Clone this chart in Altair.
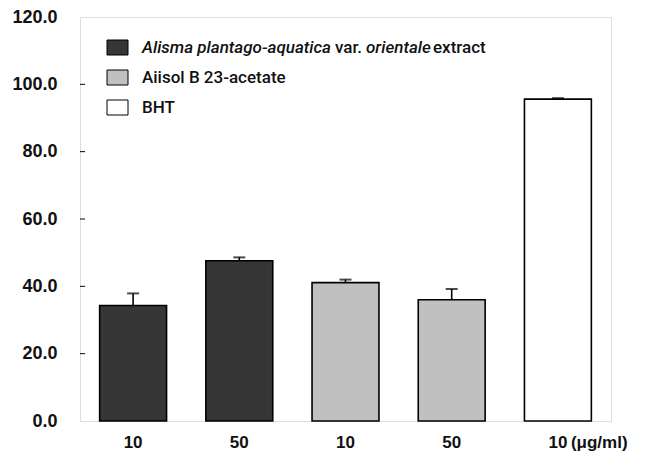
import altair as alt
import pandas as pd

categories = ["A10", "A50", "B10", "B50", "C10"]
tick_labels = ["10", "50", "10", "50", "10"]
groups = ["extract", "extract", "aiisol", "aiisol", "bht"]
means = [34.3, 47.6, 41.1, 36.0, 95.6]
errors = [3.6, 1.0, 0.9, 3.2, 0.3]
y_ticks = [0, 20, 40, 60, 80, 100, 120]
unit_label = "(\u03bcg/ml)"

group_names = ["extract", "aiisol", "bht"]
group_colors = ["#363636", "#c0c0c0", "#ffffff"]

df = pd.DataFrame({
    "cat": categories,
    "lab": tick_labels,
    "grp": groups,
    "mean": means,
    "err": errors,
})
df["top"] = df["mean"] + df["err"]

W, H = 531, 404
FONT = "Roboto"
FONT2 = "Liberation Sans"
color_scale = alt.Scale(domain=group_names, range=group_colors)

xs = alt.X("cat:N", sort=categories, axis=None,
           scale=alt.Scale(paddingInner=0.37, paddingOuter=0.185))
ys = alt.Y("mean:Q", scale=alt.Scale(domain=[0, 120], nice=False),
           axis=alt.Axis(values=y_ticks, format=".1f", title=None, grid=False,
                         ticks=False, domain=False, labelPadding=23,
                         labelFont=FONT2, labelFontSize=18, labelFontWeight="bold",
                         labelColor="#111"))

base = alt.Chart(df)

bars = base.mark_bar(stroke="black", strokeWidth=1.6).encode(
    x=xs,
    y=ys,
    color=alt.Color("grp:N", scale=color_scale, legend=None),
)

stems = base.mark_rule(color="black", strokeWidth=1.6).encode(
    x=alt.X("cat:N", sort=categories),
    y="mean:Q",
    y2="top:Q",
)
caps = base.mark_tick(color="black", thickness=2, size=12, orient="horizontal").encode(
    x=alt.X("cat:N", sort=categories),
    y="top:Q",
)

ytick_df = pd.DataFrame({"v": y_ticks[1:-1]})
yticks = alt.Chart(ytick_df).mark_rule(color="black", strokeWidth=1).encode(
    y="v:Q", x=alt.value(0), x2=alt.value(5)
)

xlabels = base.mark_text(font=FONT2, fontSize=17, fontWeight="bold", baseline="middle",
                         color="#111").encode(
    x=alt.X("cat:N", sort=categories), y=alt.value(H + 22), text="lab:N"
)
unit = alt.Chart(pd.DataFrame({"cat": [categories[-1]], "t": [unit_label]})).mark_text(
    font=FONT2, fontSize=17, fontWeight="bold", baseline="middle", align="left", dx=13,
    color="#111").encode(x=alt.X("cat:N", sort=categories), y=alt.value(H + 22), text="t:N")

# custom legend (mixed italic text cannot be done by a built-in legend)
legend_items = []
rows_y = [31, 61, 91]
for r in range(3):
    legend_items.append(
        alt.Chart(pd.DataFrame({"g": [group_names[r]]})).mark_rect(stroke="black", strokeWidth=1).encode(
            x=alt.value(27), x2=alt.value(48),
            y=alt.value(rows_y[r] - 8), y2=alt.value(rows_y[r] + 7),
            color=alt.Color("g:N", scale=color_scale, legend=None),
        )
    )

seg_text = ["Alisma plantago-aquatica", "var.", "orientale", "extract",
            "Aiisol B 23-acetate", "BHT"]
seg_x = [62, 255, 286, 353, 62, 62]
seg_y = [31, 31, 31, 31, 61, 91]
seg_style = ["italic", "normal", "italic", "normal", "normal", "normal"]
for t, x0, y0, st in zip(seg_text, seg_x, seg_y, seg_style):
    legend_items.append(
        alt.Chart(pd.DataFrame({"t": [t]})).mark_text(
            font=FONT, fontSize=17, fontStyle=st, fontWeight=500, align="left",
            baseline="middle", color="#111"
        ).encode(x=alt.value(x0), y=alt.value(y0), text="t:N")
    )

chart = alt.layer(bars, stems, caps, yticks, xlabels, unit, *legend_items).properties(
    width=W, height=H,
    autosize=alt.AutoSizeParams(type="none"),
    padding={"left": 72, "top": 9, "right": 34, "bottom": 36},
).configure_view(stroke="black", strokeWidth=1.6).configure(background="white")

chart.save("out.html", embed_options={"renderer": "svg", "actions": False})
